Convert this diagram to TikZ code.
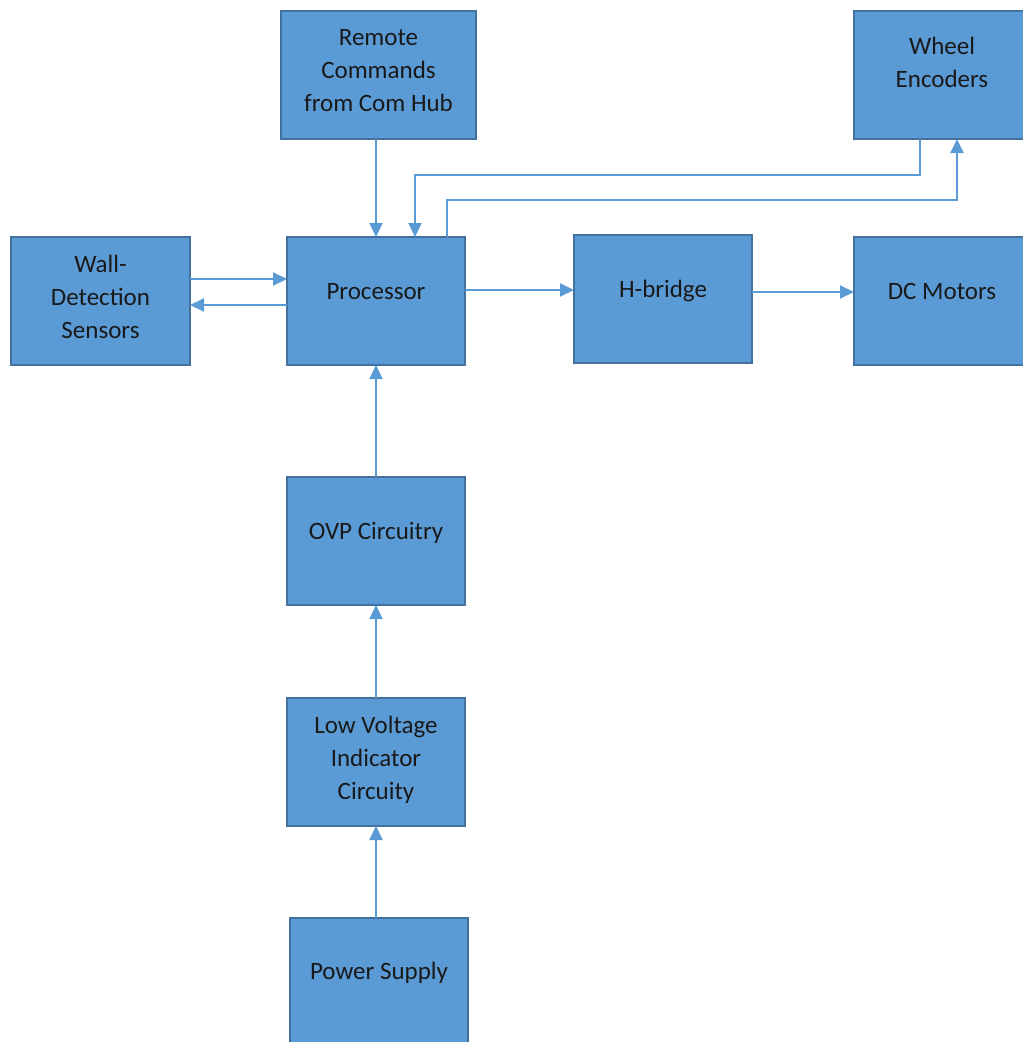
\documentclass[tikz,border=0pt]{standalone}
\usepackage{fontspec}
\setmainfont{Carlito}
\usetikzlibrary{arrows.meta}
\definecolor{boxfill}{HTML}{5B9BD5}
\definecolor{boxline}{HTML}{41719C}
\definecolor{arrowcol}{HTML}{5B9BD5}
\tikzset{
  blk/.style={draw=boxline, line width=1.3pt, fill=boxfill, anchor=north west, inner sep=0pt, outer sep=0pt},
  lbl/.style={text=black!90, align=center, font=\fontsize{25}{33}\selectfont, inner sep=0pt},
  conn/.style={draw=arrowcol, line width=2pt, -{Triangle[length=14pt,width=13pt]}},
}
\begin{document}
\begin{tikzpicture}[x=1pt,y=-1pt]
\useasboundingbox (0,0) rectangle (1023,1042);
\begin{scope}
\clip (0,0) rectangle (1023,1042);
% boxes
\node[blk, minimum width=195pt, minimum height=128pt] (remote) at (281,11) {};
\node[blk, minimum width=176pt, minimum height=128pt] (wheel) at (854,11) {};
\node[blk, minimum width=179pt, minimum height=128pt] (wall) at (11,237) {};
\node[blk, minimum width=178pt, minimum height=128pt] (proc) at (287,237) {};
\node[blk, minimum width=178pt, minimum height=128pt] (hb) at (574,235) {};
\node[blk, minimum width=176pt, minimum height=128pt] (dc) at (854,237) {};
\node[blk, minimum width=178pt, minimum height=128pt] (ovp) at (287,477) {};
\node[blk, minimum width=178pt, minimum height=128pt] (lv) at (287,698) {};
\node[blk, minimum width=178pt, minimum height=128pt] (ps) at (290,918) {};
\end{scope}
% labels
\node[lbl] (remote-t) at ([yshift=4pt]remote.center) {Remote\\Commands\\from Com Hub};
\node[lbl] (wheel-t) at (942,62) {Wheel\\Encoders};
\node[lbl] (wall-t) at ([yshift=4pt]wall.center) {Wall-\\Detection\\Sensors};
\node[lbl] (proc-t) at ([yshift=9pt]proc.center) {Processor};
\node[lbl] (hb-t) at ([yshift=8pt]hb.center) {H-bridge};
\node[lbl] (dc-t) at (942,291) {DC Motors};
\node[lbl] (ovp-t) at ([yshift=8pt]ovp.center) {OVP Circuitry};
\node[lbl] (lv-t) at ([yshift=2pt]lv.center) {Low Voltage\\Indicator\\Circuity};
\node[lbl] (ps-t) at ([yshift=9pt]ps.center) {Power Supply};
% connectors
\draw[conn] (remote.south -| 376,0) -- (proc.north -| 376,0);
\draw[conn] (wheel.south -| 920,0) |- (415,175) -- (proc.north -| 415,0);
\draw[conn] (proc.north -| 447,0) |- (957,200) -- (wheel.south -| 957,0);
\draw[conn] (wall.east |- 0,279) -- (proc.west |- 0,279);
\draw[conn] (proc.west |- 0,305) -- (wall.east |- 0,305);
\draw[conn] (proc.east |- 0,290) -- (hb.west |- 0,290);
\draw[conn] (hb.east |- 0,292) -- (dc.west |- 0,292);
\draw[conn] (ovp.north -| 376,0) -- (proc.south -| 376,0);
\draw[conn] (lv.north -| 376,0) -- (ovp.south -| 376,0);
\draw[conn] (ps.north -| 376,0) -- (lv.south -| 376,0);
\end{tikzpicture}
\end{document}
